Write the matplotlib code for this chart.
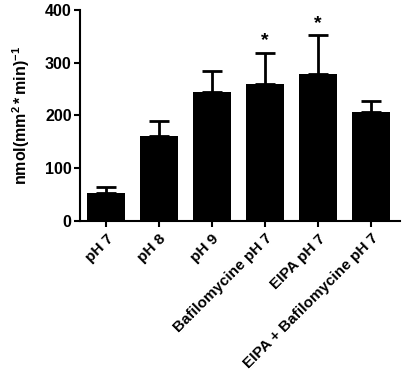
import matplotlib
matplotlib.use('Agg')
import matplotlib.pyplot as plt

# data
groups = ['pH 7', 'pH 8', 'pH 9', 'Bafilomycine pH 7', 'EIPA pH 7',
          'EIPA + Bafilomycine pH 7']
means = [54, 162, 244, 259, 278, 207]
sem = [10, 27, 41, 59, 74, 20]
stars = ['', '', '', '*', '*', '']

plt.rcParams['font.family'] = ['Liberation Sans', 'DejaVu Sans']
plt.rcParams['font.weight'] = 'bold'
plt.rcParams['mathtext.fontset'] = 'custom'
plt.rcParams['mathtext.rm'] = 'Liberation Sans:bold'
plt.rcParams['mathtext.it'] = 'Liberation Sans:bold'
plt.rcParams['mathtext.bf'] = 'Liberation Sans:bold'

fig = plt.figure(figsize=(4.03, 3.77), dpi=100)
ax = fig.add_axes([0.1985, 0.4138, 0.794, 0.5597])

x = list(range(len(groups)))
ax.bar(x, means, width=0.71, color='black')
ax.errorbar(x, means, yerr=[[0] * len(sem), sem], fmt='none', ecolor='black',
            elinewidth=2, capsize=7.5, capthick=2)

for i, s in enumerate(stars):
    if s:
        ax.text(i, means[i] + sem[i] + 7, s, ha='center', va='bottom',
                fontsize=14, fontweight='bold')

ax.set_xlim(-0.49, 5.55)
ax.set_ylim(0, 400)
ax.set_yticks([0, 100, 200, 300, 400])
ax.set_xticks(x)
ax.set_xticklabels(groups, rotation=45, ha='right', rotation_mode='anchor',
                   fontsize=11, fontweight='bold')
ax.tick_params(axis='y', labelsize=11.5, width=1.5, length=4, pad=2)
ax.tick_params(axis='x', width=1.5, length=4)
for lab in ax.get_yticklabels():
    lab.set_fontweight('bold')

ax.spines['top'].set_visible(False)
ax.spines['right'].set_visible(False)
ax.spines['left'].set_linewidth(1.5)
ax.spines['bottom'].set_linewidth(1.5)

ax.set_ylabel(r'$\mathrm{nmol(mm^{2}*min)^{-1}}$', fontsize=11.5, labelpad=9)

fig.savefig('out.png', dpi=100)
